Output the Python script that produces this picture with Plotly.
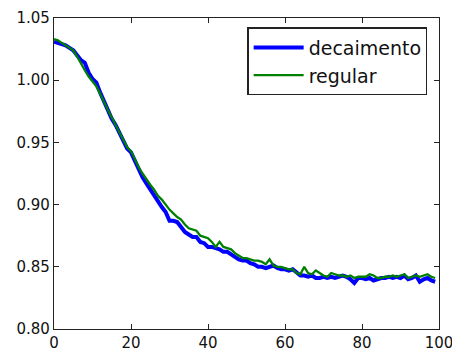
import plotly.graph_objects as go

steps = list(range(100))
decaimento = [1.031, 1.030, 1.029, 1.028, 1.026, 1.024, 1.020, 1.016, 1.014, 1.006,
              1.001, 0.998, 0.990, 0.983, 0.975, 0.969, 0.964, 0.958, 0.952, 0.945,
              0.942, 0.935, 0.928, 0.922, 0.917, 0.912, 0.907, 0.903, 0.898, 0.894,
              0.887, 0.887, 0.886, 0.882, 0.878, 0.876, 0.874, 0.874, 0.870, 0.869,
              0.866, 0.866, 0.865, 0.864, 0.862, 0.862, 0.860, 0.858, 0.856, 0.855,
              0.855, 0.853, 0.852, 0.850, 0.850, 0.849, 0.850, 0.851, 0.849, 0.848,
              0.848, 0.847, 0.848, 0.845, 0.843, 0.843, 0.842, 0.843, 0.841, 0.841,
              0.842, 0.841, 0.842, 0.841, 0.842, 0.843, 0.842, 0.840, 0.837, 0.841,
              0.841, 0.840, 0.841, 0.839, 0.840, 0.841, 0.841, 0.842, 0.841, 0.842,
              0.841, 0.843, 0.840, 0.841, 0.843, 0.838, 0.840, 0.841, 0.839, 0.838]
regular = [1.033, 1.032, 1.030, 1.028, 1.026, 1.024, 1.019, 1.013, 1.008, 1.003,
           0.999, 0.995, 0.989, 0.982, 0.976, 0.970, 0.964, 0.958, 0.952, 0.946,
           0.943, 0.936, 0.930, 0.925, 0.920, 0.916, 0.912, 0.907, 0.904, 0.900,
           0.896, 0.893, 0.890, 0.888, 0.884, 0.881, 0.880, 0.879, 0.875, 0.874,
           0.873, 0.870, 0.866, 0.870, 0.866, 0.865, 0.864, 0.861, 0.859, 0.857,
           0.857, 0.856, 0.855, 0.855, 0.854, 0.852, 0.856, 0.851, 0.850, 0.850,
           0.849, 0.848, 0.848, 0.845, 0.844, 0.850, 0.845, 0.844, 0.847, 0.845,
           0.843, 0.842, 0.845, 0.844, 0.843, 0.843, 0.842, 0.843, 0.841, 0.842,
           0.842, 0.842, 0.844, 0.843, 0.841, 0.841, 0.842, 0.842, 0.843, 0.842,
           0.843, 0.844, 0.841, 0.842, 0.843, 0.842, 0.843, 0.844, 0.842, 0.841]
x_ticks = [0, 20, 40, 60, 80, 100]
y_ticks = [0.80, 0.85, 0.90, 0.95, 1.00, 1.05]

fig = go.Figure()
fig.add_trace(go.Scatter(x=steps, y=decaimento, mode="lines", name="decaimento",
                         legendgroup="a",
                         line=dict(color="#0000ff", width=4)))
fig.add_trace(go.Scatter(x=steps, y=regular, mode="lines", name="regular",
                         legendgroup="b",
                         line=dict(color="#008000", width=2.3)))

axis_common = dict(showline=True, linecolor="#222222", linewidth=1.4, mirror="ticks",
                   ticks="inside", ticklen=5, tickcolor="#222222", showgrid=False,
                   zeroline=False, automargin=False, ticklabeloverflow="allow",
                   tickfont=dict(family="DejaVu Sans", size=15, color="#111111"))
fig.update_xaxes(range=[0, 100], tickvals=x_ticks, ticktext=[str(v) for v in x_ticks],
                 **axis_common)
fig.update_yaxes(range=[0.80, 1.05], tickvals=y_ticks, ticktext=[f"{v:.2f}" for v in y_ticks],
                 **axis_common)
fig.update_layout(
    width=452, height=352,
    margin=dict(l=54, r=13, t=18, b=23, autoexpand=False),
    plot_bgcolor="white", paper_bgcolor="white",
    legend=dict(x=0.97, y=0.97, xanchor="right", yanchor="top",
                bordercolor="#222222", borderwidth=1.2, bgcolor="white",
                font=dict(family="DejaVu Sans", size=19, color="#111111"),
                itemwidth=50, tracegroupgap=0, traceorder="grouped"),
)
fig.write_html("out.html")
